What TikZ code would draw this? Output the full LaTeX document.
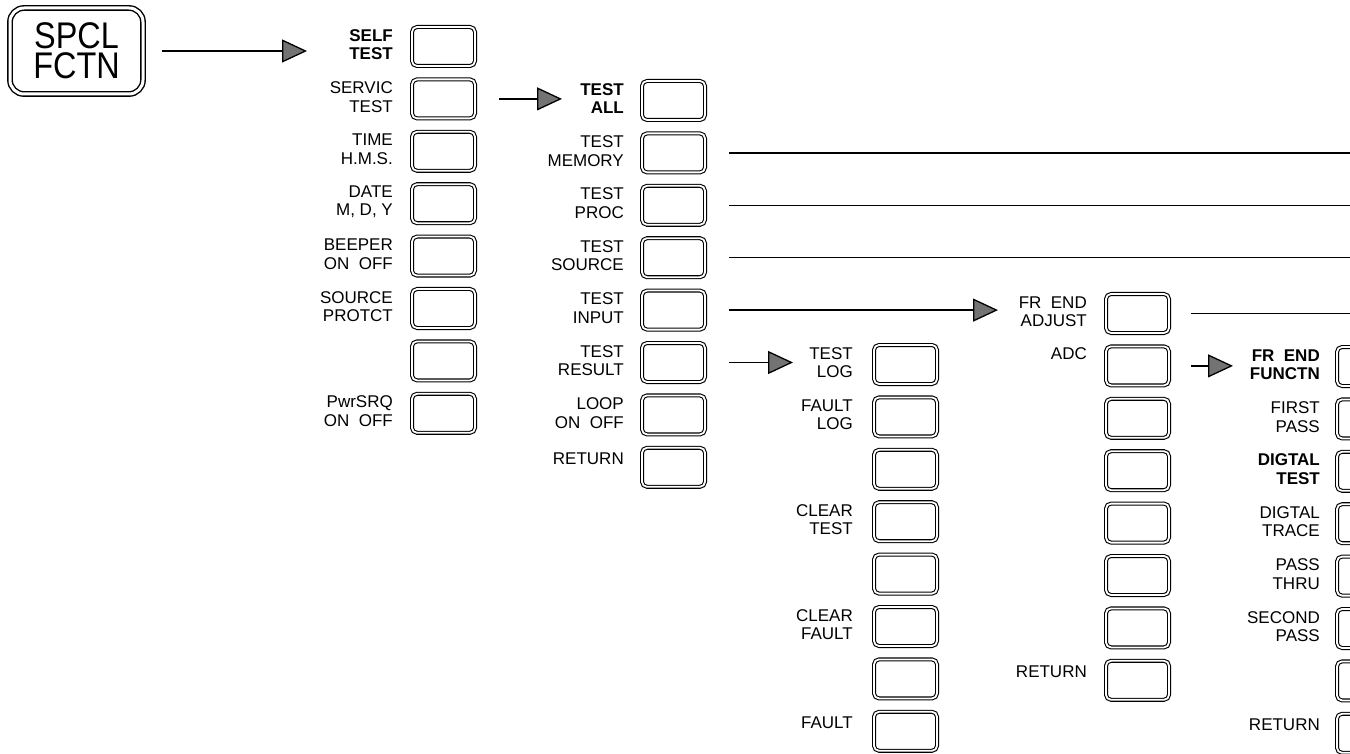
\documentclass[tikz,border=0pt]{standalone}
\usepackage{fontspec}
\usepackage{graphicx}
\setmainfont{Liberation Sans}
\usetikzlibrary{arrows.meta}
% #1 name, #2 key left x, #3 key top y, #4 label right x, #5 label y offset from key top, #6 label text
\newcommand\keyrow[6]{%
  \node[softkey] (k#1) at (#2+2,#3+2) {};
  \node[lab] (l#1) at (#4,#3+#5) {#6};
}
\newcommand\keyonly[3]{%
  \node[softkey] (k#1) at (#2+2,#3+2) {};
}
\begin{document}
\begin{tikzpicture}[x=1pt,y=-1pt,
  softkey/.style={draw, double, double distance=1.8pt, line width=1.1pt,
    rounded corners=5pt, minimum width=63pt, minimum height=39pt,
    anchor=north west, inner sep=0pt, outer sep=0pt},
  lab/.style={anchor=east, align=right, inner sep=0pt,
    font=\fontsize{17}{18.5}\selectfont},
  conn/.style={line width=1.3pt},
  arr/.style={conn, -{Triangle[length=25pt,width=23pt,fill=black!55]}},
]
\useasboundingbox (0,0) rectangle (1350,754);

% main hard key
\node[draw, double, double distance=3pt, line width=1.4pt, rounded corners=14pt,
  minimum width=133pt, minimum height=86pt, inner sep=0pt, outer sep=0pt,
  align=center, font=\fontsize{36}{30}\selectfont] (spcl) at (76.5,51)
  {\scalebox{0.9}[1.03]{SPCL}\\\scalebox{0.9}[1.03]{FCTN}};

% column 1
\keyrow{1-1}{410}{25}{393}{19.5}{\textbf{SELF}\\\textbf{TEST}}
\keyrow{1-2}{410}{77.4}{393}{19.5}{SERVIC\\TEST}
\keyrow{1-3}{410}{129.8}{393}{19.5}{TIME\\H.M.S.}
\keyrow{1-4}{410}{182.2}{393}{19.5}{DATE\\M, D, Y}
\keyrow{1-5}{410}{234.6}{393}{19.5}{BEEPER\\ON~~OFF}
\keyrow{1-6}{410}{287}{393}{19.5}{SOURCE\\PROTCT}
\keyonly{1-7}{410}{339.4}
\keyrow{1-8}{410}{391.8}{393}{19.5}{PwrSRQ\\ON~~OFF}

% column 2
\keyrow{2-1}{640}{79}{624}{19.5}{\textbf{TEST}\\\textbf{ALL}}
\keyrow{2-2}{640}{131.4}{624}{19.5}{TEST\\MEMORY}
\keyrow{2-3}{640}{183.8}{624}{19.5}{TEST\\PROC}
\keyrow{2-4}{640}{236.2}{624}{19.5}{TEST\\SOURCE}
\keyrow{2-5}{640}{288.6}{624}{19.5}{TEST\\INPUT}
\keyrow{2-6}{640}{341}{624}{19.5}{TEST\\RESULT}
\keyrow{2-7}{640}{393.4}{624}{19.5}{LOOP\\ON~~OFF}
\keyrow{2-8}{640}{445.8}{624}{12.5}{RETURN}

% column 3
\keyrow{3-1}{872}{343}{853}{19.5}{TEST\\LOG}
\keyrow{3-2}{872}{395.4}{853}{19.5}{FAULT\\LOG}
\keyonly{3-3}{872}{447.8}
\keyrow{3-4}{872}{500.2}{853}{19.5}{CLEAR\\TEST}
\keyonly{3-5}{872}{552.6}
\keyrow{3-6}{872}{605}{853}{19.5}{CLEAR\\FAULT}
\keyonly{3-7}{872}{657.4}
\keyrow{3-8}{872}{709.8}{853}{12.5}{FAULT}

% column 4
\keyrow{4-1}{1104}{292}{1087}{19.5}{FR~~END\\ADJUST}
\keyrow{4-2}{1104}{344.4}{1087}{9.5}{ADC}
\keyonly{4-3}{1104}{396.8}
\keyonly{4-4}{1104}{449.2}
\keyonly{4-5}{1104}{501.6}
\keyonly{4-6}{1104}{554}
\keyonly{4-7}{1104}{606.4}
\keyrow{4-8}{1104}{658.8}{1087}{12.5}{RETURN}

% column 5
\keyrow{5-1}{1335}{345}{1320}{19.5}{\textbf{FR~~END}\\\textbf{FUNCTN}}
\keyrow{5-2}{1335}{397.4}{1320}{19.5}{FIRST\\PASS}
\keyrow{5-3}{1335}{449.8}{1320}{19.5}{\textbf{DIGTAL}\\\textbf{TEST}}
\keyrow{5-4}{1335}{502.2}{1320}{19.5}{DIGTAL\\TRACE}
\keyrow{5-5}{1335}{554.6}{1320}{19.5}{PASS\\THRU}
\keyrow{5-6}{1335}{607}{1320}{19.5}{SECOND\\PASS}
\keyonly{5-7}{1335}{659.4}
\keyrow{5-8}{1335}{711.8}{1320}{12.5}{RETURN}

% connector end points
\coordinate (a1) at (307,51);
\coordinate (a2) at (562,98.9);
\coordinate (e1) at (1350,152.9);
\coordinate (e2) at (1350,205.3);
\coordinate (e3) at (1350,257.7);
\coordinate (a3) at (998,310.1);
\coordinate (a4) at (793,362.5);
\coordinate (e4) at (1350,313.5);
\coordinate (a5) at (1233,365.9);

% connectors
\draw[arr, shorten <=19pt] (spcl.east) -- (a1);
\draw[arr, shorten <=24pt] (k1-2.east) -- (a2);
\draw[conn, shorten <=24pt] (k2-2.east) -- (e1);
\draw[conn, shorten <=24pt] (k2-3.east) -- (e2);
\draw[conn, shorten <=24pt] (k2-4.east) -- (e3);
\draw[arr, shorten <=24pt] (k2-5.east) -- (a3);
\draw[arr, shorten <=24pt] (k2-6.east) -- (a4);
\draw[conn, shorten <=22pt] (k4-1.east) -- (e4);
\draw[arr, shorten <=22pt] (k4-2.east) -- (a5);
\end{tikzpicture}
\end{document}
